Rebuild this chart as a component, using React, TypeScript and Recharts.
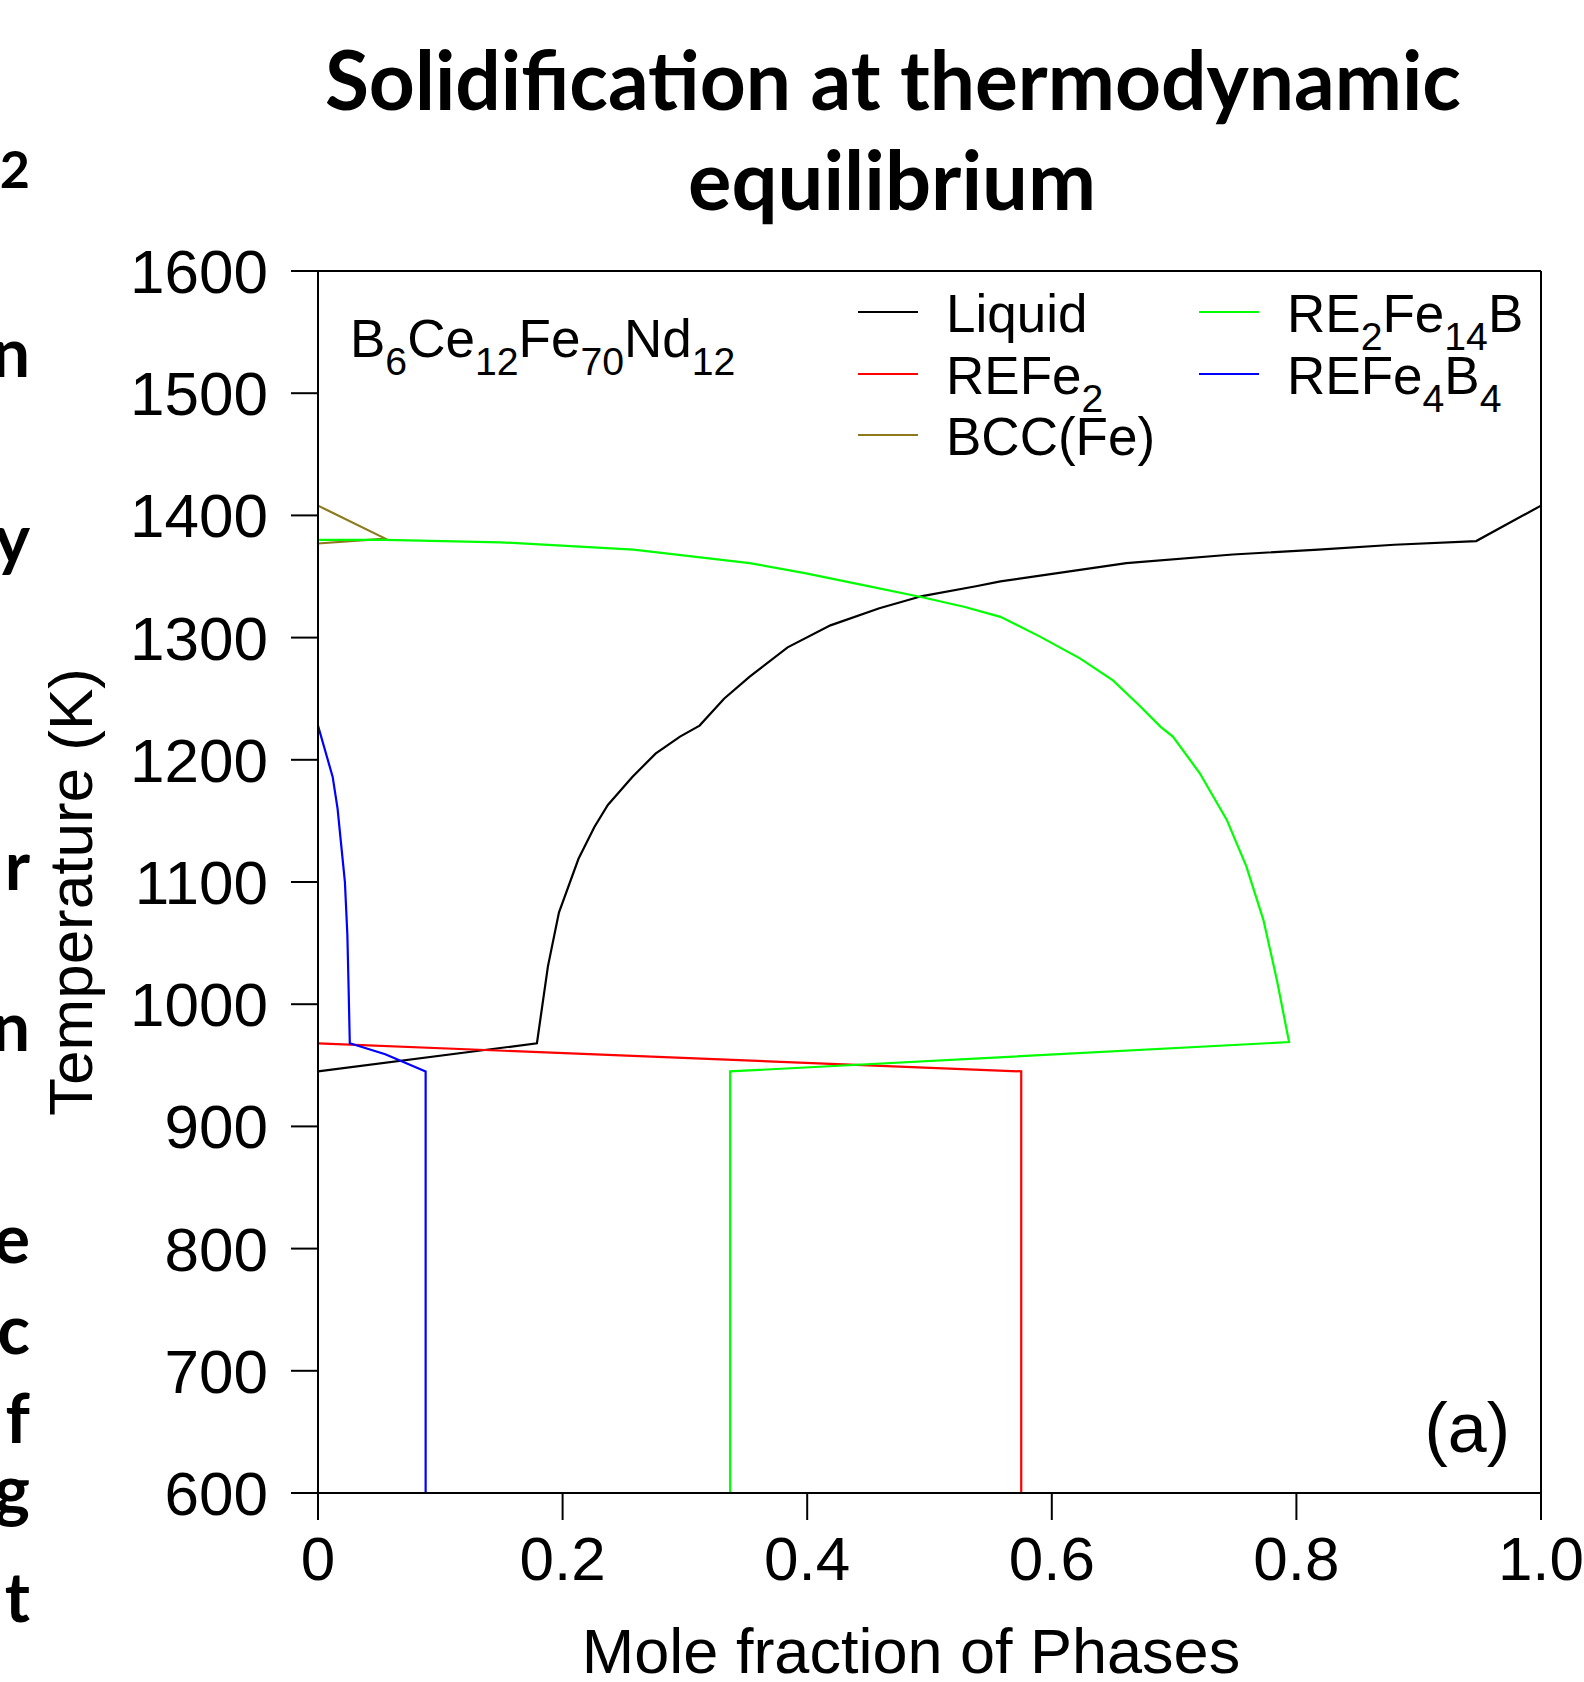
import React from "react";
import { LineChart, Line, XAxis, YAxis } from "recharts";

const W = 1584;
const H = 1682;

// phase fraction (x) vs temperature (T, K)
const liquid = [
  { x: 0, T: 945 }, { x: 0.179, T: 968 }, { x: 0.188, T: 1031 }, { x: 0.197, T: 1075 },
  { x: 0.213, T: 1119 }, { x: 0.226, T: 1145 }, { x: 0.237, T: 1163 }, { x: 0.257, T: 1186 },
  { x: 0.276, T: 1205 }, { x: 0.296, T: 1219 }, { x: 0.312, T: 1228 }, { x: 0.332, T: 1250 },
  { x: 0.353, T: 1268 }, { x: 0.384, T: 1292 }, { x: 0.419, T: 1310 }, { x: 0.459, T: 1324 },
  { x: 0.494, T: 1334 }, { x: 0.538, T: 1342 }, { x: 0.558, T: 1346 }, { x: 0.599, T: 1352 },
  { x: 0.661, T: 1361 }, { x: 0.748, T: 1368 }, { x: 0.818, T: 1372 }, { x: 0.88, T: 1376 },
  { x: 0.947, T: 1379 }, { x: 1.0, T: 1408 },
];

const refe2 = [
  { x: 0, T: 968 }, { x: 0.575, T: 945 }, { x: 0.575, T: 600 },
];

const bcc = [
  { x: 0, T: 1408 }, { x: 0.055, T: 1381 }, { x: 0, T: 1377 },
];

const re2fe14b = [
  { x: 0, T: 1380 }, { x: 0.055, T: 1380 }, { x: 0.149, T: 1378 }, { x: 0.258, T: 1372 },
  { x: 0.353, T: 1361 }, { x: 0.397, T: 1353 }, { x: 0.441, T: 1344 }, { x: 0.494, T: 1333 },
  { x: 0.529, T: 1325 }, { x: 0.558, T: 1317 }, { x: 0.59, T: 1301 }, { x: 0.623, T: 1283 },
  { x: 0.65, T: 1265 }, { x: 0.672, T: 1244 }, { x: 0.689, T: 1227 }, { x: 0.699, T: 1219 },
  { x: 0.721, T: 1189 }, { x: 0.743, T: 1151 }, { x: 0.759, T: 1113 }, { x: 0.773, T: 1069 },
  { x: 0.784, T: 1020 }, { x: 0.794, T: 969 }, { x: 0.337, T: 945 }, { x: 0.337, T: 600 },
];

const refe4b4 = [
  { x: 0, T: 1228 }, { x: 0.006, T: 1207 }, { x: 0.012, T: 1186 }, { x: 0.016, T: 1160 },
  { x: 0.019, T: 1130 }, { x: 0.022, T: 1100 }, { x: 0.024, T: 1057 }, { x: 0.025, T: 1014 },
  { x: 0.026, T: 968 }, { x: 0.055, T: 959 }, { x: 0.088, T: 945 }, { x: 0.088, T: 600 },
];

const xTicks = [0, 0.2, 0.4, 0.6, 0.8, 1.0];
const yTicks = [600, 700, 800, 900, 1000, 1100, 1200, 1300, 1400, 1500, 1600];

type Part = [string, boolean?];

const series: { key: string; color: string; data: { x: number; T: number }[]; label: Part[] }[] = [
  { key: "liquid", color: "#000000", data: liquid, label: [["Liquid"]] },
  { key: "refe2", color: "#ff0000", data: refe2, label: [["REFe"], ["2", true]] },
  { key: "bcc", color: "#8c7a1c", data: bcc, label: [["BCC(Fe)"]] },
  { key: "re2fe14b", color: "#00ff00", data: re2fe14b, label: [["RE"], ["2", true], ["Fe"], ["14", true], ["B"]] },
  { key: "refe4b4", color: "#0000ff", data: refe4b4, label: [["REFe"], ["4", true], ["B"], ["4", true]] },
];

const alloy: Part[] = [["B"], ["6", true], ["Ce"], ["12", true], ["Fe"], ["70", true], ["Nd"], ["12", true]];

// clipped letters from the neighbouring text column
const edgeLetters: [string, number, number][] = [
  ["2", 188, 52], ["n", 377, 68], ["y", 563, 68], ["r", 890, 68], ["n", 1051, 68],
  ["e", 1263, 68], ["c", 1354, 68], ["f", 1443, 68], ["g", 1514, 68], ["t", 1622, 68],
];

const FONT = "'Liberation Sans', Arial, Helvetica, sans-serif";

function Rich({ x, y, size, parts }: { x: number; y: number; size: number; parts: Part[] }) {
  const sub = size * 0.74;
  const shift = size * 0.34;
  let inSub = false;
  return (
    <text x={x} y={y} fontSize={size} fontFamily={FONT} fill="#000">
      {parts.map(([t, s], i) => {
        let dy = 0;
        if (s && !inSub) dy = shift;
        if (!s && inSub) dy = -shift;
        inSub = !!s;
        return (
          <tspan key={i} dy={dy} fontSize={s ? sub : size}>
            {t}
          </tspan>
        );
      })}
    </text>
  );
}

const legendPos = [
  { lx: 858, tx: 946, y: 312 },
  { lx: 858, tx: 946, y: 374 },
  { lx: 858, tx: 946, y: 435 },
  { lx: 1199, tx: 1287, y: 312 },
  { lx: 1199, tx: 1287, y: 374 },
];

export default function App() {
  const tickStyle = { fontSize: 62, fill: "#000", fontFamily: FONT };
  return (
    <div style={{ position: "absolute", left: 0, top: 0, width: W, height: H, background: "#fff" }}>
      <LineChart width={W} height={H} margin={{ top: 244, right: 16, bottom: 109, left: 198 }}>
        <XAxis
          dataKey="x"
          type="number"
          domain={[0, 1]}
          ticks={xTicks}
          interval={0}
          height={80}
          tickSize={27}
          tickMargin={16}
          tick={tickStyle}
          tickFormatter={(v: number) => (v === 0 ? "0" : v.toFixed(1))}
          axisLine={{ stroke: "#000", strokeWidth: 2 }}
          tickLine={{ stroke: "#000", strokeWidth: 2 }}
        />
        <XAxis
          xAxisId="top"
          orientation="top"
          dataKey="x"
          type="number"
          domain={[0, 1]}
          ticks={xTicks}
          interval={0}
          height={27}
          tickSize={27}
          tick={false}
          axisLine={{ stroke: "#000", strokeWidth: 2 }}
          tickLine={{ stroke: "#000", strokeWidth: 2 }}
        />
        <YAxis
          type="number"
          domain={[600, 1600]}
          ticks={yTicks}
          interval={0}
          width={120}
          tickSize={27}
          tickMargin={23}
          tick={tickStyle}
          axisLine={{ stroke: "#000", strokeWidth: 2 }}
          tickLine={{ stroke: "#000", strokeWidth: 2 }}
        />
        <YAxis
          yAxisId="right"
          orientation="right"
          type="number"
          domain={[600, 1600]}
          ticks={yTicks}
          interval={0}
          width={27}
          tickSize={27}
          tick={false}
          axisLine={{ stroke: "#000", strokeWidth: 2 }}
          tickLine={{ stroke: "#000", strokeWidth: 2 }}
        />
        {series.map((s) => (
          <Line
            key={s.key}
            data={s.data}
            dataKey="T"
            type="linear"
            stroke={s.color}
            strokeWidth={2.2}
            dot={false}
            activeDot={false}
            isAnimationActive={false}
          />
        ))}
      </LineChart>

      <svg
        width={W}
        height={H}
        style={{ position: "absolute", left: 0, top: 0, pointerEvents: "none" }}
      >
        <g fontFamily="Lato, 'Open Sans', sans-serif" fontWeight="bold" textAnchor="middle" fill="#000">
          <text x={893} y={110} fontSize={82} textLength={1136} lengthAdjust="spacingAndGlyphs">
            Solidification at thermodynamic
          </text>
          <text x={892} y={210} fontSize={82} textLength={408} lengthAdjust="spacingAndGlyphs">
            equilibrium
          </text>
        </g>

        <g fontFamily="Lato, 'Open Sans', sans-serif" fontWeight="bold" textAnchor="end" fill="#000">
          {edgeLetters.map(([c, y, fs], i) => (
            <text key={i} x={30} y={y} fontSize={fs}>
              {c}
            </text>
          ))}
        </g>

        <Rich x={350} y={357} size={53} parts={alloy} />

        {series.map((s, i) => {
          const p = legendPos[i];
          return (
            <g key={s.key}>
              <line x1={p.lx} x2={p.lx + 60} y1={p.y} y2={p.y} stroke={s.color} strokeWidth={2.2} />
              <Rich x={p.tx} y={p.y + 20} size={53} parts={s.label} />
            </g>
          );
        })}

        <text x={1510} y={1452} fontSize={70} fontFamily={FONT} textAnchor="end" fill="#000">
          (a)
        </text>

        <text
          x={92}
          y={892}
          transform="rotate(-90 92 892)"
          fontSize={62}
          fontFamily={FONT}
          textAnchor="middle"
          fill="#000"
        >
          Temperature (K)
        </text>

        <text x={911} y={1673} fontSize={63} fontFamily={FONT} textAnchor="middle" fill="#000">
          Mole fraction of Phases
        </text>
      </svg>
    </div>
  );
}
